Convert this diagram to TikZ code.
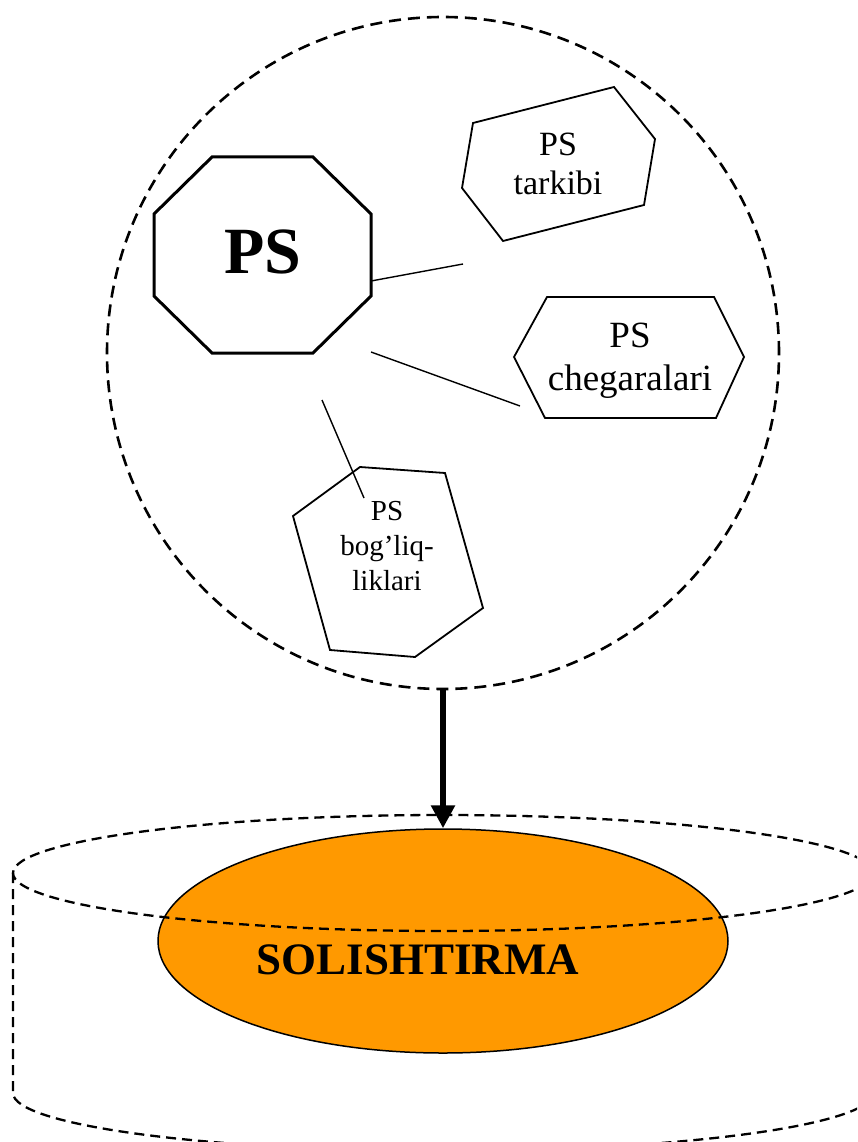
\documentclass[tikz,border=0pt]{standalone}
\usepackage{fontspec}
\setmainfont{Liberation Serif}
\usetikzlibrary{arrows.meta,shapes.geometric}
\definecolor{solorange}{RGB}{255,153,0}
\begin{document}
\begin{tikzpicture}[x=1pt,y=-1pt,
  bigdash/.style={line width=2.6pt, dash pattern=on 12pt off 7pt},
  cyldash/.style={line width=2.3pt, dash pattern=on 10pt off 6pt},
  polyline/.style={draw=black, line width=1.8pt, line join=miter},
  linkline/.style={draw=black, line width=1.4pt},
  lbl/.style={align=center, inner sep=0pt},
  mainarrow/.style={line width=6.5pt, -{Triangle[width=23pt,length=23pt]}}]
\useasboundingbox (0,0) rectangle (857,1142);
\clip (0,0) rectangle (857,1142);

% big dashed circle
\node[circle, draw, bigdash, minimum size=672pt, inner sep=0pt] (big) at (443,353) {};

% central octagon
\draw[line width=3pt, line join=miter] (212,157) -- (313,157) -- (371,214) -- (371,296)
  -- (313,353) -- (212,353) -- (154,296) -- (154,214) -- cycle;
\node[lbl, anchor=base, font=\fontsize{66}{70}\selectfont\bfseries] (ps) at (263,273) {PS};

% PS tarkibi
\draw[polyline] (473,123) -- (614,87) -- (655,139) -- (644,205) -- (503,241) -- (462,188) -- cycle;
\node[lbl, font=\fontsize{34}{39}\selectfont] (tark) at (558,164) {PS\\tarkibi};

% PS chegaralari
\draw[polyline] (547,297) -- (714,297) -- (744,357) -- (716,418) -- (545,418) -- (514,357) -- cycle;
\node[lbl, font=\fontsize{37}{43}\selectfont] (cheg) at (630,361) {PS\\chegaralari};

% PS bog'liqliklari
\draw[polyline] (360,467) -- (445,473) -- (483,608) -- (415,657) -- (330,650) -- (293,516) -- cycle;
\node[lbl, font=\fontsize{29}{35}\selectfont] (bog) at (387,546) {PS\\bog’liq-\\liklari};

% connectors
\coordinate (a1) at (371,281);
\coordinate (a2) at (463,264);
\coordinate (b1) at (371,352);
\coordinate (b2) at (520,406);
\coordinate (c1) at (322,400);
\coordinate (c2) at (364,498);
\draw[linkline] (a1) -- (a2);
\draw[linkline] (b1) -- (b2);
\draw[linkline] (c1) -- (c2);

% orange ellipse
\node[ellipse, draw=black, line width=1.5pt, fill=solorange, minimum width=570pt,
  minimum height=224pt, inner sep=0pt] (sol) at (443,941) {};
\node[lbl, anchor=base, font=\fontsize{45}{50}\selectfont\bfseries] (soltext) at (418,974) {SOLISHTIRMA};

% dashed cylinder
\draw[cyldash] (443,873) ellipse [x radius=430pt, y radius=58pt];
\draw[cyldash] (13,873) -- (13,1093) arc [start angle=180, end angle=360, x radius=430pt, y radius=58pt] -- (873,873);

% arrow
\draw[mainarrow] (big.south) -- (sol.north);
\end{tikzpicture}
\end{document}
